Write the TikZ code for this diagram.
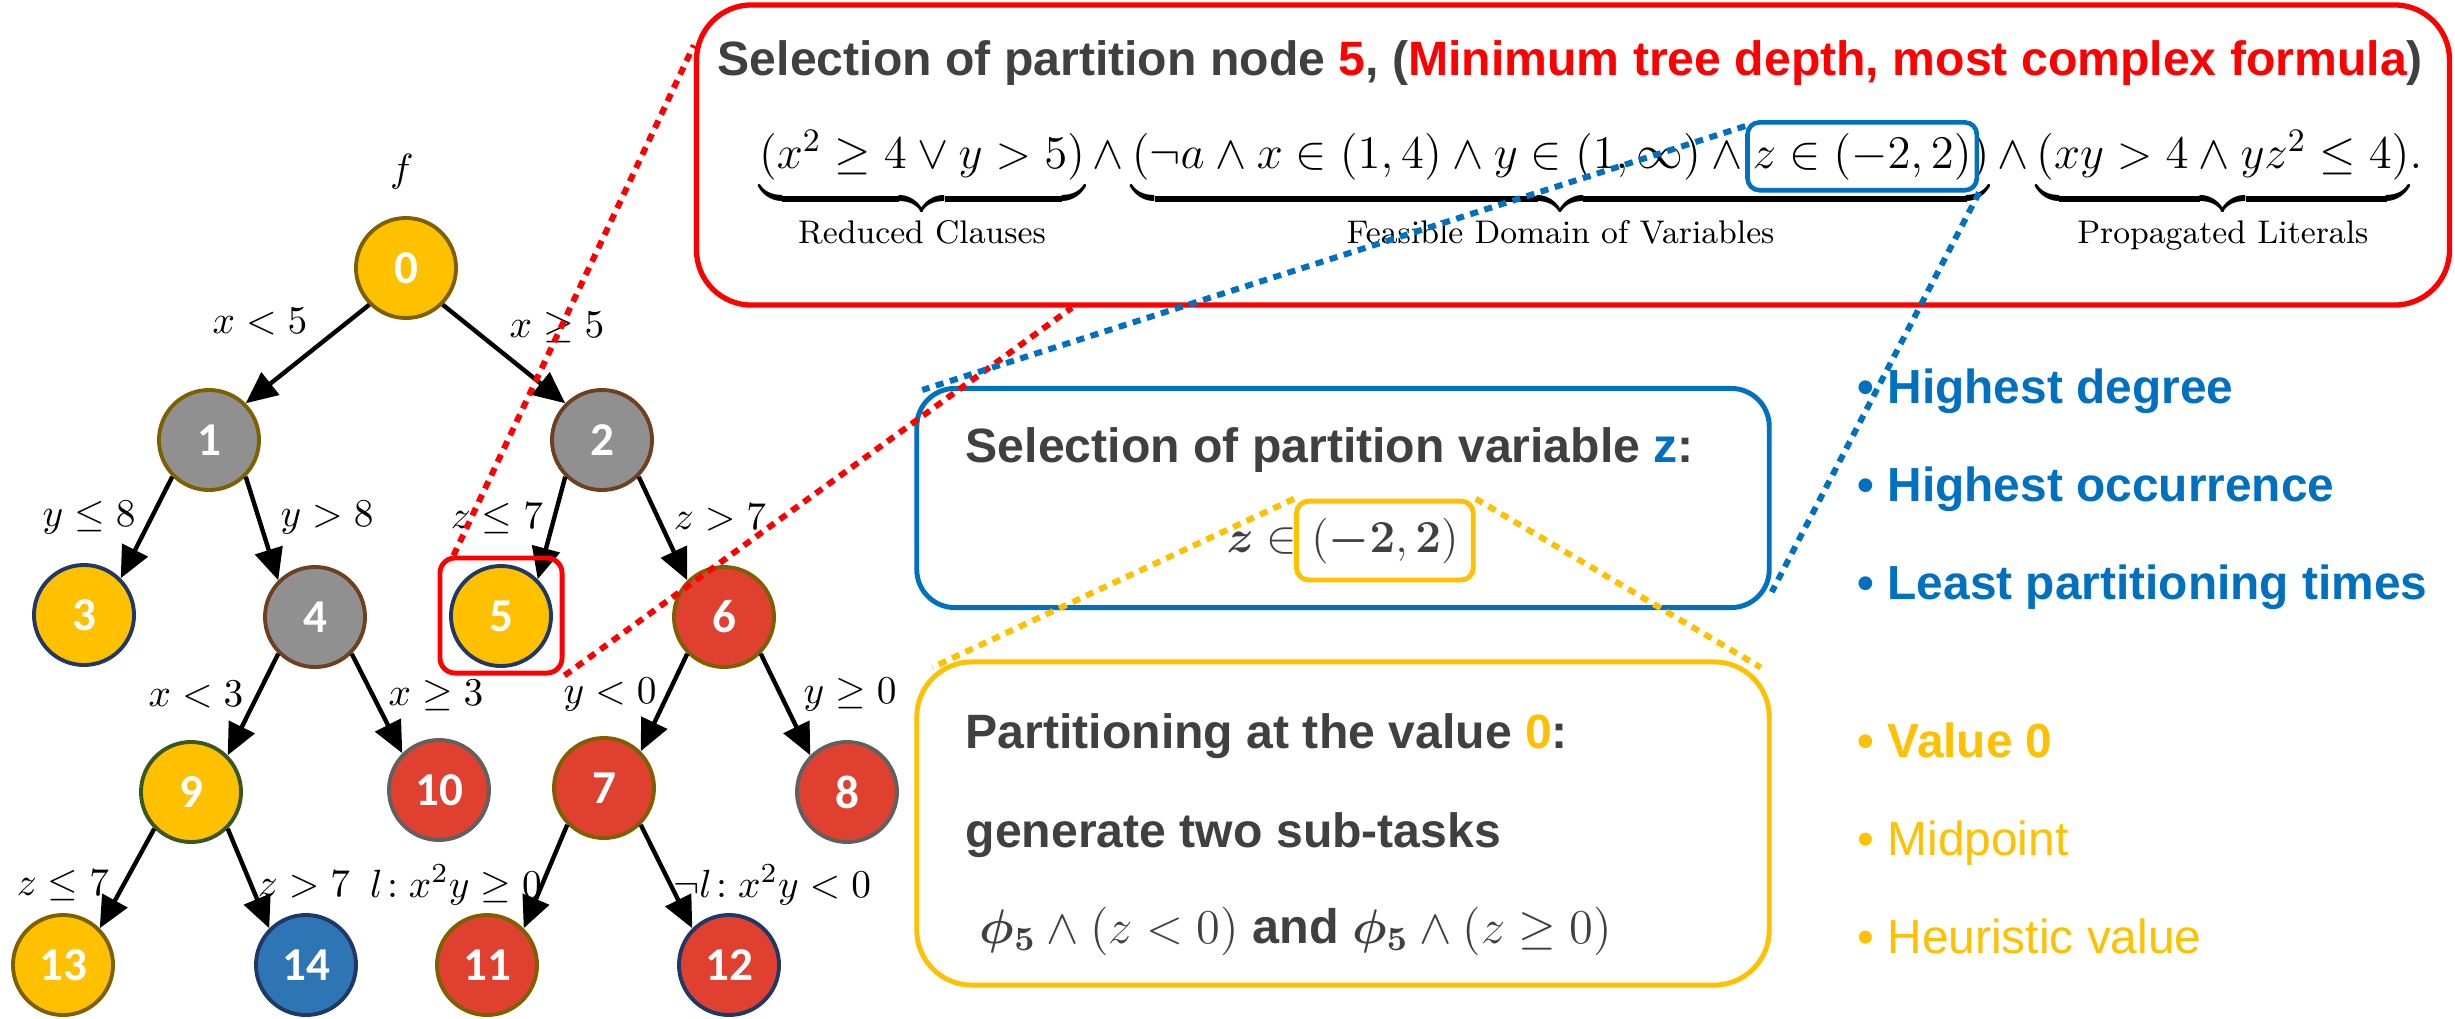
\RequirePackage{fix-cm}
\documentclass[tikz,border=0pt]{standalone}
\usepackage{amsmath,bm}
\usepackage{fontspec}
\newfontfamily\arialf{Liberation Sans}
\newfontfamily\calibf{Carlito}
\usetikzlibrary{arrows.meta,calc,fit}
\definecolor{gold}{HTML}{FFC000}
\definecolor{ngray}{HTML}{909090}
\definecolor{nred}{HTML}{E0402F}
\definecolor{nblue}{HTML}{2E75B6}
\definecolor{obl}{HTML}{0070C0}
\definecolor{txt}{HTML}{404040}
\definecolor{bdol}{HTML}{7F6000}
\definecolor{bdbr}{HTML}{6E4020}
\definecolor{bdnv}{HTML}{1F3864}
\definecolor{bdgr}{HTML}{385723}
\definecolor{bdgy}{HTML}{606060}
\tikzset{
  tn/.style={circle, minimum size=1cm, inner sep=0pt, line width=1.1pt, text=white,
    font=\calibf\bfseries\fontsize{13.4}{14}\selectfont},
  tedge/.style={line width=1.25pt, -{Triangle[length=9pt,width=8pt]}},
  elab/.style={inner sep=0pt, font=\fontsize{11.2}{12}\selectfont},
  fml/.style={inner sep=0pt, outer sep=0pt, anchor=base west, font=\fontsize{13.3}{16}\selectfont},
  ubr/.style={inner sep=0pt, outer sep=0pt, anchor=north west, yshift=-1.5pt, font=\fontsize{13.3}{16}\selectfont},
  headtxt/.style={inner sep=0pt, anchor=base west, text=txt, font=\arialf\bfseries\fontsize{13.7}{16}\selectfont},
  bulb/.style={inner sep=0pt, anchor=base west, text=obl, font=\arialf\bfseries\fontsize{13.6}{16}\selectfont},
  buly/.style={inner sep=0pt, anchor=base west, text=gold, font=\arialf\fontsize{13.6}{16}\selectfont},
  dotln/.style={line width=1.7pt, dash pattern=on 2.3pt off 1.9pt},
}
\begin{document}
\begin{tikzpicture}[x=0.01cm,y=-0.01cm]
\useasboundingbox (0,0) rectangle (2455,1018);
\fill[white] (0,0) rectangle (2455,1018);

% ---------------- tree ----------------
\node[elab] (fl) at (402,172) {$f$};
\node[tn, fill=gold, draw=bdol] (n0) at (406,268) {0};
\node[tn, fill=ngray, draw=bdol] (n1) at (209,440) {1};
\node[tn, fill=ngray, draw=bdbr] (n2) at (602,440) {2};
\node[tn, fill=gold, draw=bdnv] (n3) at (84,615) {3};
\node[tn, fill=ngray, draw=bdbr] (n4) at (315,617) {4};
\node[tn, fill=gold, draw=bdnv] (n5) at (501,616) {5};
\node[tn, fill=nred, draw=bdol] (n6) at (724,617) {6};
\node[tn, fill=gold, draw=bdgr] (n9) at (191,792) {9};
\node[tn, fill=nred, draw=bdgy] (n10) at (439,790) {10};
\node[tn, fill=nred, draw=bdol] (n7) at (604,788) {7};
\node[tn, fill=nred, draw=bdgy] (n8) at (847,792) {8};
\node[tn, fill=gold, draw=bdol] (n13) at (63,965) {13};
\node[tn, fill=nblue, draw=bdnv] (n14) at (306,965) {14};
\node[tn, fill=nred, draw=bdol] (n11) at (487,965) {11};
\node[tn, fill=nred, draw=bdnv] (n12) at (729,965) {12};

\draw[tedge] (n0.225) -- (n1.45);
\draw[tedge] (n0.315) -- (n2.135);
\draw[tedge] (n1.225) -- (n3.45);
\draw[tedge] (n1.315) -- (n4.135);
\draw[tedge] (n2.225) -- (n5.45);
\draw[tedge] (n2.315) -- (n6.135);
\draw[tedge] (n4.225) -- (n9.45);
\draw[tedge] (n4.315) -- (n10.135);
\draw[tedge] (n6.225) -- (n7.45);
\draw[tedge] (n6.315) -- (n8.135);
\draw[tedge] (n9.225) -- (n13.45);
\draw[tedge] (n9.315) -- (n14.135);
\draw[tedge] (n7.225) -- (n11.45);
\draw[tedge] (n7.315) -- (n12.135);

\node[elab] (l01) at (260,322) {$x<5$};
\node[elab] (l02) at (557,327) {$x\geq 5$};
\node[elab] (l13) at (89,518) {$y\leq 8$};
\node[elab] (l14) at (327,518) {$y>8$};
\node[elab] (l25) at (497,518) {$z\leq 7$};
\node[elab] (l26) at (720,518) {$z>7$};
\node[elab] (l49) at (196,695) {$x<3$};
\node[elab] (l410) at (436,695) {$x\geq 3$};
\node[elab] (l67) at (610,695) {$y<0$};
\node[elab] (l68) at (850,695) {$y\geq 0$};
\node[elab] (l913) at (63,885) {$z\leq 7$};
\node[elab] (l914) at (304,885) {$z>7$};
\node[elab] (l711) at (456,885) {$l\!:x^2y\geq 0$};
\node[elab] (l712) at (772,885) {$\neg l\!:x^2y<0$};

\node[draw=red, line width=1.4pt, rounded corners=0.15cm, inner sep=0pt,
      minimum width=1.22cm, minimum height=1.15cm] (sel5) at (501,615.5) {};

% ---------------- red box ----------------
\node[draw=red, line width=1.5pt, rounded corners=0.55cm, inner sep=0pt,
      minimum width=17.52cm, minimum height=3.0cm] (bigred) at (1573,155) {};
\node[headtxt] (title) at (717,75) {Selection of partition node \textcolor{red}{5}, (\textcolor{red}{Minimum tree depth, most complex formula})};

\node[fml] (f1) at (759,168) {$(x^2\geq 4\vee y>5)$};
\node[fml] (a1) at (f1.base east) {$\,\wedge\,$};
\node[fml] (f2) at (a1.base east) {$(\neg a\wedge x\in(1,4)\wedge y\in(1,\infty)\wedge{}$};
\node[fml] (zf) at (f2.base east) {$z\in(-2,2)$};
\node[fml] (f2e) at (zf.base east) {$)$};
\node[fml] (a2) at (f2e.base east) {$\,\wedge\,$};
\node[fml] (f3) at (a2.base east) {$(xy>4\wedge yz^2\leq 4)$};
\node[fml] (fd) at (f3.base east) {$.$};
\node[ubr] (u1) at (f1.south west) {$\underbrace{\hphantom{(x^2\geq 4\vee y>5)}}_{\text{Reduced Clauses}}$};
\node[ubr] (u2) at (f2.south west) {$\underbrace{\hphantom{(\neg a\wedge x\in(1,4)\wedge y\in(1,\infty)\wedge z\in(-2,2))}}_{\text{Feasible Domain of Variables}}$};
\node[ubr] (u3) at (f3.south west) {$\underbrace{\hphantom{(xy>4\wedge yz^2\leq 4)}}_{\text{Propagated Literals}}$};
\node[draw=obl, line width=1.3pt, rounded corners=0.12cm, fit=(zf), inner xsep=1.5pt, inner ysep=3pt] (zbox) {};

% ---------------- blue box ----------------
\node[draw=obl, line width=1.4pt, rounded corners=0.38cm, inner sep=0pt,
      minimum width=8.52cm, minimum height=2.19cm] (bluebox) at (1343,498) {};
\node[headtxt] (bt1) at (965,462) {Selection of partition variable \textcolor{obl}{z}:};
\node[inner sep=0pt, anchor=base west, text=txt, font=\fontsize{13}{14}\selectfont] (zv) at (1226,552) {$\bm{z}\in{}$};
\node[inner sep=0pt, anchor=base west, text=txt, font=\fontsize{13}{14}\selectfont] (zr) at (zv.base east) {$(\bm{-2},\bm{2})$};
\node[draw=gold, line width=1.4pt, rounded corners=0.12cm, fit=(zr), inner xsep=4pt, inner ysep=4.5pt] (ybsmall) {};

% ---------------- yellow box ----------------
\node[draw=gold, line width=1.4pt, rounded corners=0.55cm, inner sep=0pt,
      minimum width=8.52cm, minimum height=3.23cm] (ybox) at (1343,823.5) {};
\node[headtxt] (yt1) at (965,748) {Partitioning at the value \textcolor{gold}{0}:};
\node[headtxt] (yt2) at (965,847) {generate two sub-tasks};
\node[headtxt, font=\arialf\bfseries\fontsize{13.8}{16}\selectfont] (yt3) at (979,943) {$\bm{\phi}_{\bm{5}}\wedge(z<0)$ and $\bm{\phi}_{\bm{5}}\wedge(z\geq 0)$};

% ---------------- bullets ----------------
\node[bulb] (b1) at (1857,403) {\textbullet\ Highest degree};
\node[bulb] (b2) at (1857,501) {\textbullet\ Highest occurrence};
\node[bulb] (b3) at (1857,599) {\textbullet\ Least partitioning times};
\node[buly, font=\arialf\bfseries\fontsize{13.6}{16}\selectfont] (b4) at (1857,757) {\textbullet\ Value 0};
\node[buly] (b5) at (1857,855) {\textbullet\ Midpoint};
\node[buly] (b6) at (1857,953) {\textbullet\ Heuristic value};

% ---------------- dotted connectors ----------------
\draw[dotln, red] ($(sel5.north west)+(16,0)$) -- ($(bigred.north west)+(0,43)$);
\draw[dotln, red] (sel5.south east) -- ($(bigred.south west)+(378,0)$);
\draw[dotln, obl] ($(zbox.north west)+(0,6)$) -- ($(bluebox.north west)+(8,4)$);
\draw[dotln, obl] (zbox.south east) -- ($(bluebox.south east)+(0,-18)$);
\draw[dotln, gold] (ybsmall.north west) -- ($(ybox.north west)+(18,8)$);
\draw[dotln, gold] (ybsmall.north east) -- ($(ybox.north east)+(-11,8)$);
\end{tikzpicture}
\end{document}
